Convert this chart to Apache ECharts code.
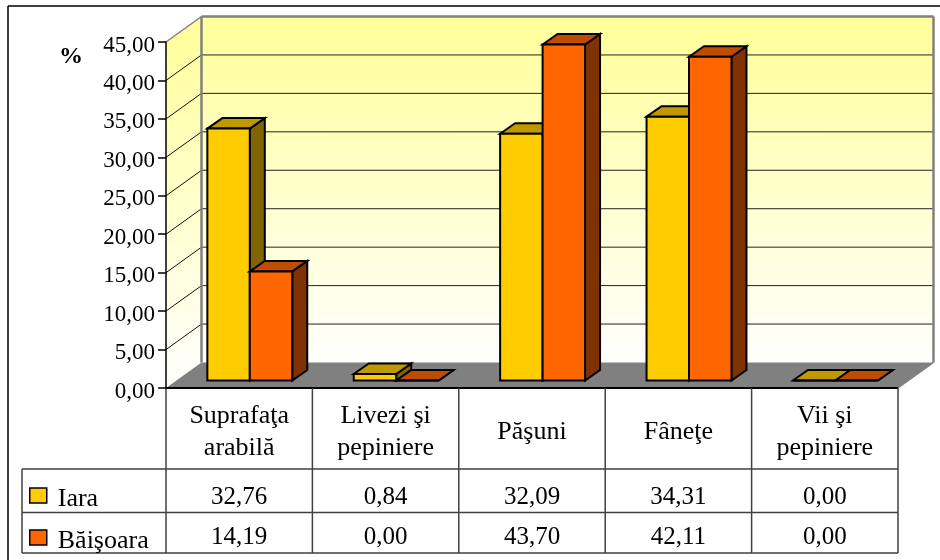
<!DOCTYPE html>
<html>
<head>
<meta charset="utf-8">
<style>html,body{margin:0;padding:0;background:#fff}#c{width:940px;height:560px}</style>
<script src="https://cdn.jsdelivr.net/npm/echarts@6/dist/echarts.min.js"></script>
</head>
<body>
<div id="c"></div>
<script>
var categories = ['Suprafaţa\narabilă', 'Livezi şi\npepiniere', 'Păşuni', 'Fâneţe', 'Vii şi\npepiniere'];
var seriesNames = ['Iara', 'Băişoara'];
var iara = [32.76, 0.84, 32.09, 34.31, 0.00];
var baisoara = [14.19, 0.00, 43.70, 42.11, 0.00];
var yTicks = [0, 5, 10, 15, 20, 25, 30, 35, 40, 45];

var FONT = '"Liberation Serif","Times New Roman",serif';
var DX = 35.5, DY = -25.5;           // chart depth
var BASE_X = 10.6, BASE_Y = -7.5;    // front of the bars inside the depth
var BAR_DX = 15, BAR_DY = -10.5;     // depth of a bar
var ROW_TOP = 469, ROW_MID = 512.5, ROW_BOTTOM = 553, TABLE_LEFT = 22;

function fmt(v) { return v.toFixed(2).replace('.', ','); }
function poly(points, fill, stroke, lw) {
  return { type: 'polygon', shape: { points: points },
    style: { fill: fill, stroke: stroke || null, lineWidth: lw || 0, lineJoin: 'miter' } };
}
function seg(x1, y1, x2, y2, color, lw) {
  return { type: 'line', shape: { x1: x1, y1: y1, x2: x2, y2: y2 },
    style: { stroke: color, lineWidth: lw, fill: null } };
}
function txt(s, x, y, align) {
  return { type: 'text', style: { text: s, x: x, y: y, textAlign: align || 'center', textVerticalAlign: 'middle',
    fontFamily: FONT, fontSize: 25, fill: '#000' } };
}

function renderScene(params, api) {
  var o = api.coord([0, 0]), top = api.coord([0, 45]);
  var cw = api.size([1, 0])[0];
  var x0 = o[0] - cw / 2, x1 = x0 + cw * categories.length, y0 = o[1], yt = top[1];
  var grad = new echarts.graphic.LinearGradient(0, 0, 0, 1, [
    { offset: 0, color: '#FFFF99' }, { offset: 1, color: '#FFFFFF' }]);
  var ch = [];
  // page frame
  ch.push(seg(8, 6, 940, 6, '#000', 1.5), seg(8, 6, 8, 560, '#000', 1.5));
  // side wall, back wall, floor
  ch.push(poly([[x0, y0], [x0, yt], [x0 + DX, yt + DY], [x0 + DX, y0 + DY]], grad));
  ch.push(poly([[x0 + DX, yt + DY], [x1 + DX, yt + DY], [x1 + DX, y0 + DY], [x0 + DX, y0 + DY]], grad));
  // grid lines
  yTicks.forEach(function (t) {
    if (t === 0 || t === 45) return;
    var y = api.coord([0, t])[1];
    ch.push(seg(x0, y, x0 + DX, y + DY, '#111', 1));
    ch.push(seg(x0 + DX, y + DY, x1 + DX, y + DY, '#222', 1));
  });
  ch.push(poly([[x0, y0], [x0 + DX, y0 + DY], [x1 + DX, y0 + DY], [x1, y0]], '#808080'));
  // wall edges
  ch.push(seg(x0, yt, x0 + DX, yt + DY, '#808080', 1.5));
  ch.push(seg(x0 + DX, yt + DY, x1 + DX, yt + DY, '#808080', 2.5));
  ch.push(seg(x0 + DX, yt + DY, x0 + DX, y0 + DY, '#808080', 2.5));
  ch.push(seg(x1 + DX, yt + DY, x1 + DX, y0 + DY, '#808080', 2.5));
  ch.push(seg(x1 + DX, y0 + DY, x1, y0, '#808080', 1.5));
  ch.push(seg(x0, y0, x1, y0, '#000', 2));
  return { type: 'group', children: ch };
}

function renderTable(params, api) {
  var o = api.coord([0, 0]);
  var cw = api.size([1, 0])[0];
  var x0 = o[0] - cw / 2, x1 = x0 + cw * categories.length, y0 = o[1];
  var ch = [];
  var lc = '#404040';
  for (var i = 0; i <= categories.length; i++) {
    var x = x0 + cw * i;
    ch.push(seg(x, y0, x, ROW_BOTTOM, lc, 1.5));
  }
  ch.push(seg(TABLE_LEFT, ROW_TOP, x1, ROW_TOP, lc, 1.5));
  ch.push(seg(TABLE_LEFT, ROW_MID, x1, ROW_MID, lc, 1.5));
  ch.push(seg(TABLE_LEFT, ROW_BOTTOM, x1, ROW_BOTTOM, lc, 1.5));
  ch.push(seg(TABLE_LEFT, ROW_TOP, TABLE_LEFT, ROW_BOTTOM, lc, 1.5));
  for (var k = 0; k < categories.length; k++) {
    var cx = api.coord([k, 0])[0];
    ch.push(txt(fmt(iara[k]), cx, 497));
    ch.push(txt(fmt(baisoara[k]), cx, 537));
  }
  return { type: 'group', children: ch };
}

function barRenderer(side, front, topC, sideC) {
  return function (params, api) {
    var i = api.value(0), v = api.value(1);
    var cw = api.size([1, 0])[0];
    var w = cw * 0.29;
    var c = api.coord([i, 0]);
    var t = api.coord([i, v]);
    var xl = c[0] + BASE_X + (side < 0 ? -w : 0), xr = xl + w;
    var yb = c[1] + BASE_Y, yt = t[1] + BASE_Y;
    var lw = 2;
    return { type: 'group', children: [
      poly([[xr, yb], [xr, yt], [xr + BAR_DX, yt + BAR_DY], [xr + BAR_DX, yb + BAR_DY]], sideC, '#000', lw),
      poly([[xl, yt], [xl + BAR_DX, yt + BAR_DY], [xr + BAR_DX, yt + BAR_DY], [xr, yt]], topC, '#000', lw),
      poly([[xl, yb], [xl, yt], [xr, yt], [xr, yb]], front, '#000', lw)
    ] };
  };
}

var chart = echarts.init(document.getElementById('c'), null, { renderer: 'canvas' });
chart.setOption({
  animation: false,
  backgroundColor: '#fff',
  grid: { left: 166, top: 42, width: 732, height: 346, containLabel: false },
  legend: {
    left: 29, top: 486, orient: 'vertical', padding: 0, itemWidth: 17, itemHeight: 15, itemGap: 16,
    itemStyle: { borderColor: '#000', borderWidth: 1.5 },
    formatter: function (n) { return '{a|' + n + '}'; },
    textStyle: { fontFamily: FONT, fontSize: 26, color: '#000',
      rich: { a: { fontFamily: FONT, fontSize: 26, color: '#000', lineHeight: 33, verticalAlign: 'bottom', padding: [0, 0, 0, 6] } } },
    data: [
      { name: seriesNames[0], icon: 'rect', itemStyle: { color: '#FFCC00', borderColor: '#000', borderWidth: 1.5 } },
      { name: seriesNames[1], icon: 'rect', itemStyle: { color: '#FF6600', borderColor: '#000', borderWidth: 1.5 } }
    ]
  },
  graphic: [{ type: 'text', left: 59, top: 45, style: { text: '%', fontFamily: FONT, fontWeight: 'bold', fontSize: 24, fill: '#000' } }],
  xAxis: {
    type: 'category', data: categories,
    axisLine: { show: false }, axisTick: { show: false }, splitLine: { show: false },
    axisLabel: { interval: 0, margin: 44, verticalAlign: 'middle', lineHeight: 32, fontFamily: FONT, fontSize: 26, color: '#000' }
  },
  yAxis: {
    type: 'value', min: 0, max: 45, interval: 5, z: 2,
    axisLine: { show: true, lineStyle: { color: '#000', width: 1.5 } },
    axisTick: { show: true, length: 8, lineStyle: { color: '#000', width: 1.5 } },
    splitLine: { show: false },
    axisLabel: { margin: 11, fontFamily: FONT, fontSize: 23, color: '#000',
      formatter: function (v) { return '{a|' + fmt(v) + '}'; },
      rich: { a: { fontFamily: FONT, fontSize: 23, color: '#000', lineHeight: 30, verticalAlign: 'bottom' } } }
  },
  series: [
    { type: 'custom', name: 'walls', coordinateSystem: 'cartesian2d', data: [[0, 0]], renderItem: renderScene, silent: true, z: 1 },
    { type: 'custom', name: 'table', coordinateSystem: 'cartesian2d', data: [[0, 0]], renderItem: renderTable, silent: true, z: 1 },
    { type: 'custom', name: seriesNames[0], coordinateSystem: 'cartesian2d', z: 3,
      itemStyle: { color: '#FFCC00' },
      data: iara.map(function (v, i) { return [i, v]; }), encode: { x: 0, y: 1 },
      renderItem: barRenderer(-1, '#FFCC00', '#C09900', '#806600') },
    { type: 'custom', name: seriesNames[1], coordinateSystem: 'cartesian2d', z: 3,
      itemStyle: { color: '#FF6600' },
      data: baisoara.map(function (v, i) { return [i, v]; }), encode: { x: 0, y: 1 },
      renderItem: barRenderer(1, '#FF6600', '#BF4D00', '#803300') }
  ]
});
</script>
</body>
</html>
